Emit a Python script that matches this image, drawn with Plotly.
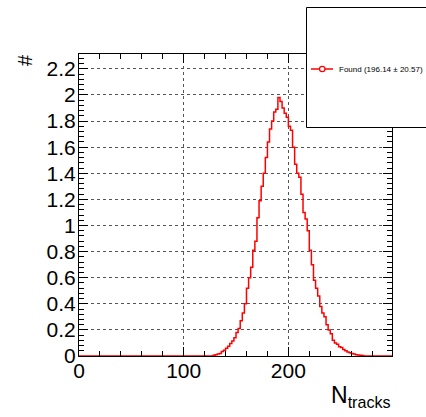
import plotly.graph_objects as go

# ---- data ----
bin_width = 2
x_min, x_max = 0, 300
# counts for bins starting at 126 (width 2) up to 276
start_edge = 126
counts_core = [0.0, 0.005, 0.01, 0.015, 0.02, 0.035, 0.045, 0.06, 0.075, 0.095,
               0.115, 0.14, 0.18, 0.21, 0.27, 0.33, 0.40, 0.52, 0.60, 0.68,
               0.81, 0.88, 1.06, 1.19, 1.30, 1.40, 1.52, 1.64, 1.74, 1.80,
               1.87, 1.89, 1.98, 1.95, 1.90, 1.86, 1.83, 1.76, 1.73, 1.60,
               1.47, 1.40, 1.37, 1.24, 1.10, 1.05, 0.96, 0.81, 0.70, 0.58,
               0.52, 0.46, 0.38, 0.33, 0.30, 0.24, 0.20, 0.17, 0.12, 0.10,
               0.09, 0.07, 0.065, 0.05, 0.04, 0.03, 0.025, 0.02, 0.015, 0.01,
               0.008, 0.005, 0.003, 0.0]
legend_text = "Found (196.14 \u00b1 20.57)"
y_ticks = [0, 0.2, 0.4, 0.6, 0.8, 1.0, 1.2, 1.4, 1.6, 1.8, 2.0, 2.2]
y_tick_labels = ["0", "0.2", "0.4", "0.6", "0.8", "1", "1.2", "1.4", "1.6", "1.8", "2", "2.2"]
x_ticks = [0, 100, 200]
x_tick_labels = ["0", "100", "200"]

# build full histogram (zeros outside the core region)
n_lead = (start_edge - x_min) // bin_width
n_core = len(counts_core)
n_trail = (x_max - (start_edge + n_core * bin_width)) // bin_width
counts = [0.0] * n_lead + counts_core + [0.0] * n_trail
edges = [x_min + i * bin_width for i in range(len(counts) + 1)]
ys = counts + [counts[-1]]

W, H = 426, 417
L, R, T, B = 79, 392, 54, 356


def px(xp):
    return (xp - L) / (R - L)


def py(yp):
    return (B - yp) / (B - T)


fig = go.Figure()
fig.add_trace(go.Scatter(x=edges, y=ys, mode="lines", line=dict(color="#ff0000", width=1.5, shape="hv"),
                         showlegend=False, hoverinfo="skip"))

axis_common = dict(showline=True, linecolor="black", linewidth=1, mirror="ticks", ticks="inside",
                   tickcolor="black", showgrid=True, gridcolor="#555555", griddash="dot", gridwidth=1,
                   zeroline=False, tickfont=dict(family="Liberation Sans, Arial", size=21, color="black"))

fig.update_xaxes(range=[x_min, 299], tickvals=x_ticks, ticktext=x_tick_labels, ticklen=9,
                 minor=dict(ticks="inside", dtick=20, ticklen=5, tickcolor="black", showgrid=False),
                 ticklabelstandoff=-4, **axis_common)
fig.update_yaxes(range=[0, 2.314], tickvals=y_ticks, ticktext=y_tick_labels, ticklen=9,
                 minor=dict(ticks="inside", dtick=0.04, ticklen=5, tickcolor="black", showgrid=False),
                 ticklabelstandoff=-2, **axis_common)

shapes = []
# legend box
shapes.append(dict(type="rect", xref="paper", yref="paper", x0=px(306.5), x1=px(440), y0=py(127.5), y1=py(7.5),
                   line=dict(color="black", width=1), fillcolor="white", layer="above"))
shapes.append(dict(type="line", xref="paper", yref="paper", x0=px(311), x1=px(333), y0=py(69), y1=py(69),
                   line=dict(color="#ff0000", width=1.5), layer="above"))
shapes.append(dict(type="circle", xref="paper", yref="paper", x0=px(319.5), x1=px(325), y0=py(71.7), y1=py(66.3),
                   line=dict(color="#ff0000", width=1.2), fillcolor="white", layer="above"))

annotations = [
    dict(text=legend_text, xref="paper", yref="paper", x=px(337), y=py(69), xanchor="left", yanchor="middle",
         showarrow=False, font=dict(family="Liberation Sans, Arial", size=8, color="black")),
    dict(text="#", xref="paper", yref="paper", x=px(25), y=py(60), xanchor="center", yanchor="middle",
         textangle=-90, showarrow=False, font=dict(family="Liberation Sans, Arial", size=20, color="black")),
    dict(text="N<sub>tracks</sub>", xref="paper", yref="paper", x=px(393), y=py(396), xanchor="right",
         yanchor="middle", showarrow=False, font=dict(family="Liberation Sans, Arial", size=23, color="black")),
]

fig.update_layout(width=W, height=H, margin=dict(l=L, r=W - R, t=T, b=H - B, pad=0),
                  paper_bgcolor="white", plot_bgcolor="white", shapes=shapes, annotations=annotations,
                  showlegend=False)

fig.write_html("out.html")
